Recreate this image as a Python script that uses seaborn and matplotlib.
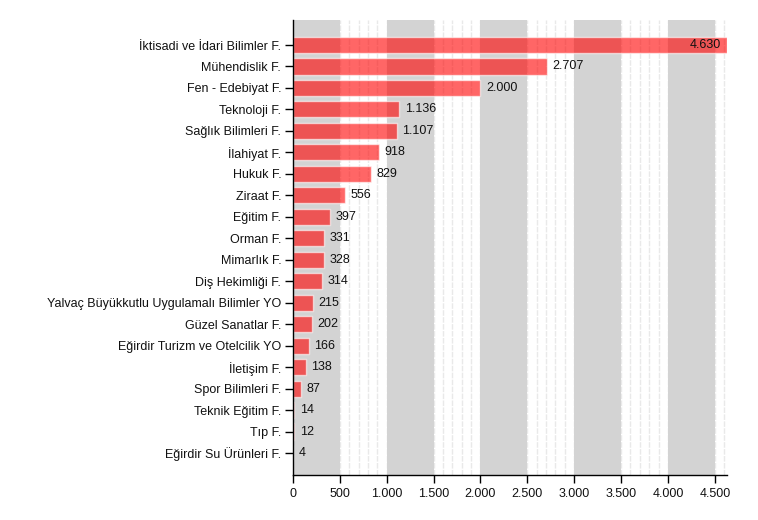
import matplotlib
matplotlib.use("Agg")
import matplotlib.pyplot as plt
import seaborn as sns
import pandas as pd
from matplotlib.ticker import FixedLocator

categories = ["İktisadi ve İdari Bilimler F.", "Mühendislik F.", "Fen - Edebiyat F.",
              "Teknoloji F.", "Sağlık Bilimleri F.", "İlahiyat F.", "Hukuk F.", "Ziraat F.",
              "Eğitim F.", "Orman F.", "Mimarlık F.", "Diş Hekimliği F.",
              "Yalvaç Büyükkutlu Uygulamalı Bilimler YO", "Güzel Sanatlar F.",
              "Eğirdir Turizm ve Otelcilik YO", "İletişim F.", "Spor Bilimleri F.",
              "Teknik Eğitim F.", "Tıp F.", "Eğirdir Su Ürünleri F."]
values = [4630, 2707, 2000, 1136, 1107, 918, 829, 556, 397, 331, 328, 314,
          215, 202, 166, 138, 87, 14, 12, 4]
x_ticks = [0, 500, 1000, 1500, 2000, 2500, 3000, 3500, 4000, 4500]

def fmt(v):
    return f"{v:,}".replace(",", ".")

df = pd.DataFrame({"cat": categories, "val": values})

sns.set_style("white")
plt.rcParams["font.family"] = ["Liberation Sans", "DejaVu Sans"]

fig = plt.figure(figsize=(7.58, 5.2), dpi=100)
ax = fig.add_axes([293/758, 1-475/520, (727-293)/758, (475-20)/520])

# minor grid lines (visible in the white stripes only)
for m in range(100, 4700, 100):
    ax.axvline(m, color="#e9e9e9", lw=1, ls=(0, (4, 1)), zorder=0.2)
# background bands
for s in range(0, 4500, 1000):
    ax.axvspan(s, s + 500, color="#d3d3d3", zorder=0.5, lw=0)

sns.barplot(data=df, x="val", y="cat", orient="h", color="#ff0000", alpha=0.6,
            width=0.75, saturation=1, ax=ax, zorder=2)

ax.set_xlim(0, 4630)
n = len(categories)
ax.set_ylim(n - 1 + 22/21.47, -25/21.47)
ax.xaxis.set_major_locator(FixedLocator(x_ticks))
ax.set_xticklabels([fmt(t) for t in x_ticks])
ax.set_xlabel("")
ax.set_ylabel("")
for sp in ["top", "right"]:
    ax.spines[sp].set_visible(False)
for sp in ["left", "bottom"]:
    ax.spines[sp].set_color("black")
    ax.spines[sp].set_linewidth(1)
ax.tick_params(axis="both", direction="out", length=6, width=1, color="black",
               labelsize=9, labelcolor="#111111", left=True, bottom=True)
ax.tick_params(axis="y", pad=2.5)

for i, v in enumerate(values):
    if i == 0:
        ax.text(v - 60, i, fmt(v), va="center", ha="right", fontsize=9, color="#111111", zorder=3)
    else:
        ax.text(v + 60, i, fmt(v), va="center", ha="left", fontsize=9, color="#111111", zorder=3)

fig.savefig("out.png", dpi=100)
